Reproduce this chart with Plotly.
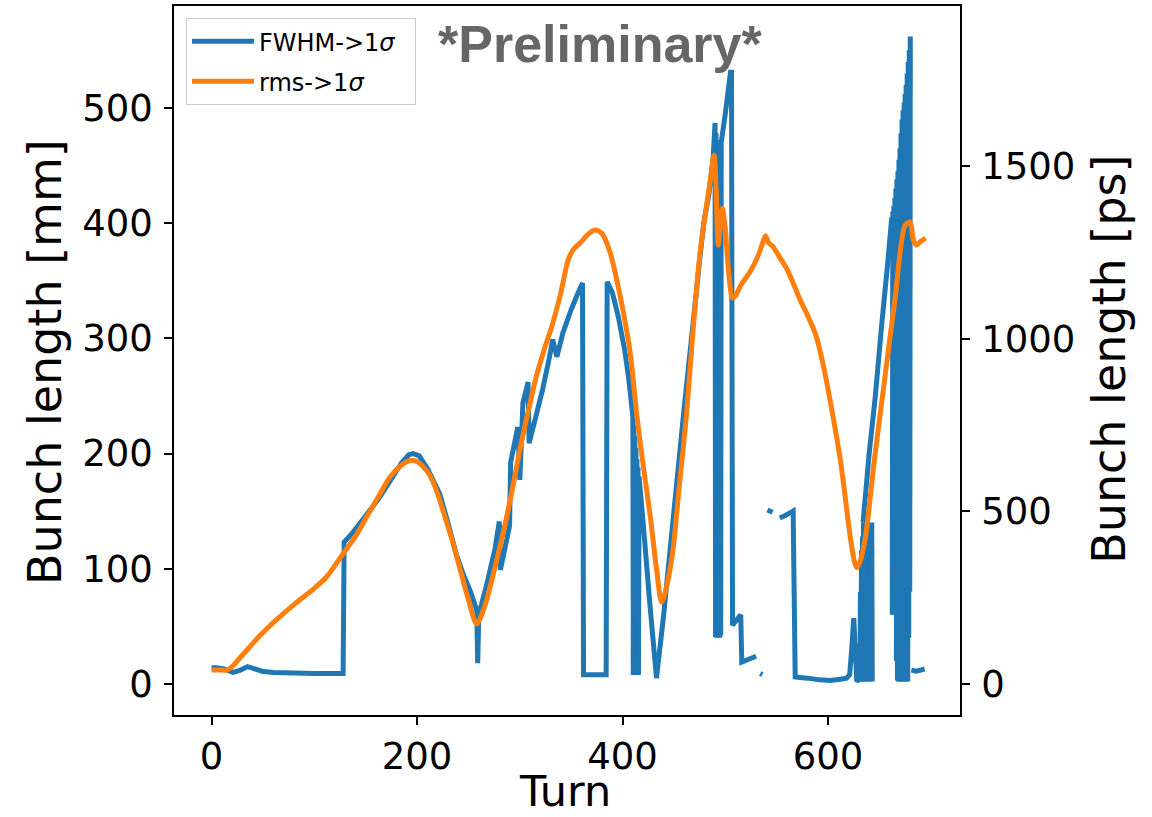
import plotly.graph_objects as go

fwhm_turn = [0, 5, 12, 21, 28, 35, 42, 49, 60, 80, 100, 128, 129, 138, 150, 162, 175, 185, 192, 196,
             202, 210, 216, 222, 230, 238, 245, 252, 258, 259, 260, 268, 276, 280, 281, 290, 291, 298,
             300, 303, 308, 309, 315, 322, 328, 332, 336, 342, 350, 356, 361, 362, 372, 384, 385, 390,
             396, 402, 406, 410, 410.5, None,
             410.5, 411, None, 411.5, 412, None, 412.5, 413, None, 413.5, 414, None, 414.5, 415, None,
             415.5, 416, 420, 426, 433, 440, 450, 460, 470, 475, 479, 484, 488, 490, 490.5, None,
             490.5, 491, None, 491.5, 492, None, 492.5, 493, None, 493.5, 494, None, 494.5, 495, None,
             495.5, 496, 500, 505, 506, 507, 515, 516, 530, None,
             534, 536, None, 541, 546, None, 553, 558, 562, 566, 568, 580, 592, 602, 612, 618, 621, 623,
             625, 627, 628, 629, 629.5, None,
             630, 630.5, None, 631, 631.5, None, 632, 632.5, None, 633, 633.5, None, 634, 634.5, None,
             635, 635.5, None, 636, 636.5, None, 637, 637.5, None, 638, 638.5, None, 639, 639.5, None,
             640, 640.5, None, 641, 641.5, None, 642, 642.5, 643, None,
             634, 640, 646, 652, 658, 662, None,
             662.5, 663, None, 663.5, 664, None, 664.5, 665, None, 665.5, 666, None, 666.5, 667, None,
             667.5, 668, None, 668.5, 669, None, 669.5, 670, None, 670.5, 671, None, 671.5, 672, None,
             672.5, 673, None, 673.5, 674, None, 674.5, 675, None, 675.5, 676, None, 676.5, 677, None,
             677.5, 678, None, 678.5, 679, None, 679.5, 680, None,
             681, 686, 690, 694]
fwhm_mm = [14, 14, 13, 10, 12, 15, 13, 11, 10, 9.5, 9, 9, 123, 132, 146, 160, 178, 192, 199, 200,
           198, 187, 176, 165, 140, 113, 95, 80, 64, 18, 60, 87, 118, 141, 99, 137, 192, 223,
           177, 244, 262, 209, 230, 255, 280, 299, 284, 305, 325, 338, 348, 8, 8, 8, 349, 340,
           318, 290, 265, 232, 8, None,
           8, 225, None, 8, 215, None, 8, 205, None, 8, 195, None, 8, 188, None,
           8, 180, 140, 75, 5, 60, 150, 240, 325, 368, 400, 425, 455, 487, 41, None,
           41, 478, None, 40, 472, None, 42, 470, None, 41, 468, None, 40, 466, None,
           42, 470, 495, 531, 531, 51, 60, 19, 24, None,
           9, 8, None, 151, 149, None, 144, 146, 148, 150, 6, 5, 3.5, 3, 4, 5, 8, 30,
           57, 20, 2, 3, 20, None,
           2, 35, None, 3, 80, None, 2, 116, None, 3, 128, None, 2, 140, None,
           3, 138, None, 2, 140, None, 3, 139, None, 2, 140, None, 3, 137, None,
           2, 135, None, 3, 138, None, 2, 140, 2, None,
           140, 200, 250, 310, 365, 405, None,
           60, 410, None, 62, 415, None, 60, 422, None, 62, 430, None, 20, 438, None,
           3, 445, None, 2, 455, None, 2, 465, None, 3, 478, None, 2, 490, None,
           3, 498, None, 2, 505, None, 3, 512, None, 2, 520, None, 3, 530, None,
           2, 540, None, 40, 550, None, 80, 562, None,
           12, 11, 12, 13]

rms_turn = [0, 5, 10, 15, 20, 25, 34, 45, 55, 66, 83, 100, 112, 128, 140, 151, 162, 174, 185, 193,
            200, 211, 218, 225, 234, 242, 250, 258, 266, 276, 286, 294, 300, 308, 316, 324, 332, 340,
            347, 352, 360, 366, 373, 380, 388, 398, 407, 414, 420, 427, 433, 438, 443, 449, 455, 462,
            468, 475, 480, 485, 489, 491, 493, 495, 497, 500, 503, 507, 510, 515, 525, 532, 536, 539,
            542, 546, 553, 560, 566, 573, 580, 588, 595, 602, 612, 622, 626, 628, 631, 636, 645, 655,
            665, 675, 680, 683, 686, 690, 695]
rms_mm = [12, 12, 12, 12, 15, 20, 29, 40, 49, 58, 71, 83, 93, 113, 128, 145, 162, 180, 190, 194,
          193, 183, 170, 151, 125, 99, 73, 52, 68, 102, 140, 175, 203, 236, 267, 291, 313, 340,
          368, 377, 384, 390, 394, 391, 374, 335, 290, 232, 190, 145, 100, 71, 85, 116, 170, 232,
          300, 371, 405, 435, 459, 430, 381, 395, 413, 395, 360, 335, 337, 346, 359, 372, 382, 389,
          383, 380, 370, 360, 348, 333, 320, 303, 278, 246, 194, 125, 105, 101, 106, 125, 194, 264,
          333, 398, 401, 385, 381, 384, 387]

x_ticks = [0, 200, 400, 600]
y_ticks_mm = [0, 100, 200, 300, 400, 500]
y_ticks_ps = [0, 500, 1000, 1500]
MM_TO_PS = 3.3356  # 1 mm / c in ps

labels = ["FWHM-&gt;1<i>σ</i>\u00a0\u00a0", "rms-&gt;1<i>σ</i>"]
x_title = "Turn"
y_title = "Bunch length [mm]"
y2_title = "Bunch length [ps]"

x_range = [-36.6, 728.4]
y_range = [-27.0, 588.5]

FONT = "DejaVu Sans"

fig = go.Figure()
fig.add_trace(go.Scatter(x=fwhm_turn, y=fwhm_mm, mode="lines", name=labels[0],
                         line=dict(color="#1f77b4", width=5, simplify=False), connectgaps=False,
                         legendgroup="a"))
fig.add_trace(go.Scatter(x=rms_turn, y=rms_mm, mode="lines", name=labels[1],
                         line=dict(color="#ff7f0e", width=5, shape="spline", smoothing=0.8,
                                   simplify=False),
                         legendgroup="b"))
# trace carrying the right-hand ps axis
fig.add_trace(go.Scatter(x=[None], y=[None], yaxis="y2", showlegend=False, hoverinfo="skip"))

axis_common = dict(showline=True, linecolor="black", linewidth=1.6, ticks="outside",
                   ticklen=8, tickwidth=1.6, tickcolor="black", showgrid=False, zeroline=False,
                   automargin=False,
                   tickfont=dict(family=FONT, size=37, color="black"))

title_font = dict(family=FONT, size=46, color="black")

fig.update_layout(
    width=1152, height=817,
    margin=dict(l=174, r=192, t=6, b=102),
    paper_bgcolor="white", plot_bgcolor="white",
    font=dict(family=FONT, color="black"),
    xaxis=dict(range=x_range, tickvals=x_ticks, mirror=True, ticklabelstandoff=0, **axis_common),
    yaxis=dict(range=y_range, tickvals=y_ticks_mm, ticklabelstandoff=4, **axis_common),
    yaxis2=dict(range=[y_range[0] * MM_TO_PS, y_range[1] * MM_TO_PS], tickvals=y_ticks_ps,
                overlaying="y", side="right", ticklabelstandoff=4, **axis_common),
    legend=dict(x=0.0153, y=0.983, xanchor="left", yanchor="top",
                bgcolor="rgba(255,255,255,0.8)", bordercolor="#cccccc", borderwidth=1,
                font=dict(family=FONT, size=24, color="black"), itemwidth=62,
                traceorder="grouped", tracegroupgap=6),
    showlegend=True,
    annotations=[
        dict(text="<b>*Preliminary*</b>", xref="paper", yref="paper",
             x=0.542, y=0.946, xanchor="center", yanchor="middle", showarrow=False,
             font=dict(family="Liberation Sans", size=52, color="#666666")),
        dict(text=x_title, xref="paper", yref="paper", x=0.4975, y=-0.1439,
             xanchor="center", yanchor="bottom", showarrow=False, borderpad=0,
             font=dict(family=FONT, size=43, color="black")),
        dict(text=y_title, xref="paper", yref="paper", x=-0.164, y=0.498, textangle=-90,
             xanchor="center", yanchor="middle", showarrow=False, font=title_font),
        dict(text=y2_title, xref="paper", yref="paper", x=1.1896, y=0.501, textangle=-90,
             xanchor="center", yanchor="middle", showarrow=False, font=title_font),
    ],
)

fig.write_html("out.html")
